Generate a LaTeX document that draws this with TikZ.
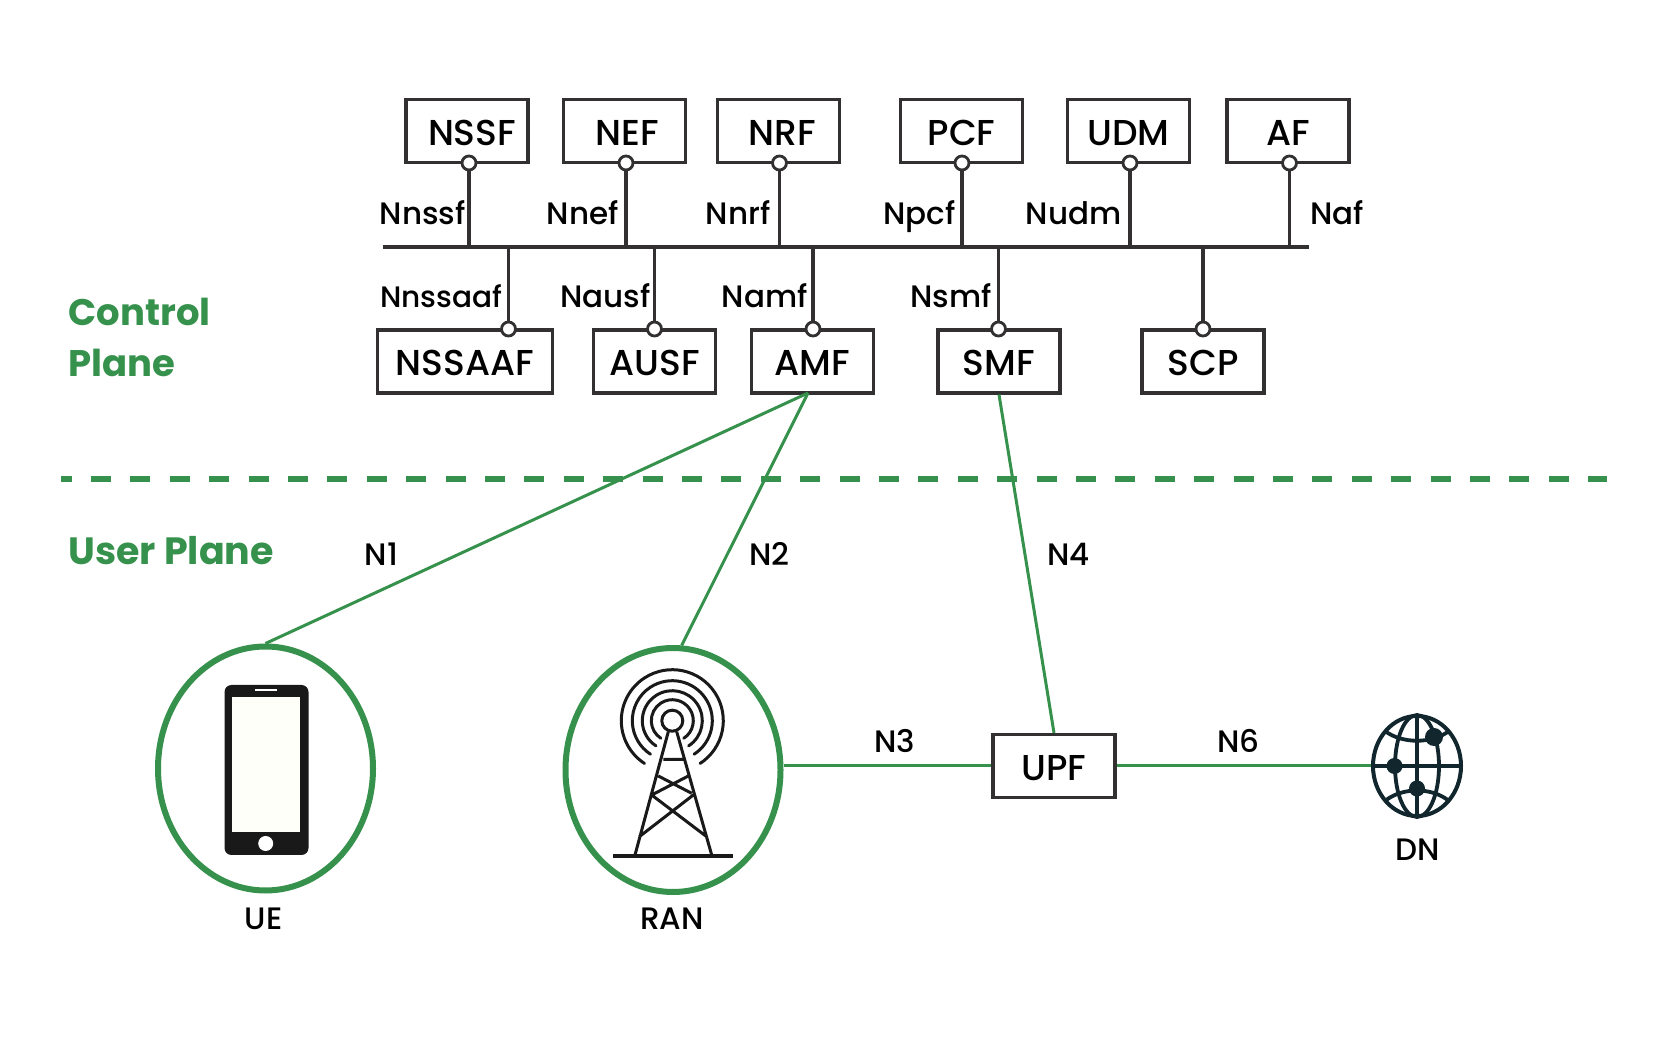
\documentclass[tikz,border=0pt]{standalone}
\usepackage{fontspec}
\setmainfont{Poppins Medium}[BoldFont={Poppins Bold}]
\usetikzlibrary{positioning,shapes.geometric}
\definecolor{planegreen}{RGB}{53,145,75}
\definecolor{boxgray}{RGB}{50,48,48}
\definecolor{globeink}{RGB}{18,38,46}

\begin{document}
\begin{tikzpicture}[x=0.5pt,y=-0.5pt,
    thick,
    box node/.style={rectangle,draw=boxgray,line width=1.6pt,fill=white,minimum width=61pt,minimum height=31.5pt,inner sep=0pt,text height=14.3pt,text depth=0pt,font=\fontsize{18}{22}\selectfont},
    wide node/.style={box node,minimum width=87.5pt},
    port node/.style={circle,draw=boxgray,line width=1.4pt,fill=white,minimum size=7pt,inner sep=0pt},
    iface/.style={font=\fontsize{15.5}{19}\selectfont},
    site/.style={ellipse,draw=planegreen,line width=3pt,minimum width=107.5pt,minimum height=122pt,inner sep=0pt},
    globe/.style={ellipse,draw=globeink,line width=2pt,minimum width=44pt,minimum height=50pt,inner sep=0pt},
    plane/.style={font=\fontsize{18.5}{25}\selectfont\bfseries,text=planegreen,align=left,anchor=west},
    bus line/.style={draw=boxgray,line width=1.7pt},
    link/.style={draw=planegreen,line width=1.5pt}]
    \useasboundingbox (0,0) rectangle (1667,1042);
    % control plane boxes, top row
    \node[box node] (nssf) at (467,131) {\hspace*{5pt}NSSF};
    \node[box node] (nef) at (624.5,131) {\hspace*{3pt}NEF};
    \node[box node] (nrf) at (778.5,131) {\hspace*{4pt}NRF};
    \node[box node] (pcf) at (961.5,131) {PCF};
    \node[box node] (udm) at (1128.5,131) {UDM};
    \node[box node] (af) at (1288,131) {AF};
    % bottom row
    \node[wide node] (nssaaf) at (465,361.5) {NSSAAF};
    \node[box node] (ausf) at (654.5,361.5) {AUSF};
    \node[box node] (amf) at (812.5,361.5) {AMF};
    \node[box node] (smf) at (999,361.5) {SMF};
    \node[box node] (scp) at (1203,361.5) {SCP};
    % bus ends
    \coordinate (busl) at (383,247);
    \coordinate (busr) at (1309,247);
    \path[bus line] (busl) edge (busr);
    % service ports
    \node[port node] (pnssf) at (469,163) {};
    \node[port node] (pnef) at (626,163) {};
    \node[port node] (pnrf) at (779.5,163) {};
    \node[port node] (ppcf) at (962,163) {};
    \node[port node] (pudm) at (1130,163) {};
    \node[port node] (paf) at (1289.5,163) {};
    \node[port node] (pnssaaf) at (508.5,329) {};
    \node[port node] (pausf) at (654.5,329) {};
    \node[port node] (pamf) at (813,329) {};
    \node[port node] (psmf) at (998.5,329) {};
    \node[port node] (pscp) at (1203,329) {};
    \path[bus line]
    (pnssf) edge (pnssf |- busl)
    (pnef) edge (pnef |- busl)
    (pnrf) edge (pnrf |- busl)
    (ppcf) edge (ppcf |- busl)
    (pudm) edge (pudm |- busl)
    (paf) edge (paf |- busl)
    (pnssaaf) edge (pnssaaf |- busl)
    (pausf) edge (pausf |- busl)
    (pamf) edge (pamf |- busl)
    (psmf) edge (psmf |- busl)
    (pscp) edge (pscp |- busl);
    % interface labels
    \node[iface,anchor=base east] (lnssf) at (473,225) {Nnssf};
    \node[iface,anchor=base east] (lnef) at (626,225) {Nnef};
    \node[iface,anchor=base east] (lnrf) at (778,225) {Nnrf};
    \node[iface,anchor=base east] (lnpcf) at (963,225) {Npcf};
    \node[iface,anchor=base east] (lnudm) at (1129,225) {Nudm};
    \node[iface,anchor=base west] (lnaf) at (1303,225) {Naf};
    \node[iface,anchor=base east,font=\fontsize{14.8}{18}\selectfont] (lnssaaf) at (510,308) {Nnssaaf};
    \node[iface,anchor=base east] (lnausf) at (658,308) {Nausf};
    \node[iface,anchor=base east] (lnamf) at (815,308) {Namf};
    \node[iface,anchor=base east] (lnsmf) at (999,308) {Nsmf};
    % planes
    \node[plane] (cplane) at (61,311.5) {Control};
    \node[plane] (cplane2) at (61,362.5) {Plane};
    \node[plane,font=\fontsize{19}{25}\selectfont\bfseries] (uplane) at (61,551) {User Plane};
    \coordinate (dashl) at (61,479);
    \coordinate (dashr) at (1607,479);
    \path[draw=planegreen,line width=3.3pt,dash pattern=on 10pt off 9.7pt,dash phase=4.7pt] (dashl) -- (dashr);
    % user plane
    \node[site] (ue) at (265.5,768.5) {};
    \node[site] (ran) at (673,770) {};
    \node[box node] (upf) at (1054,766) {UPF};
    \node[globe] (dn) at (1417,766) {};
    \node[iface] (lue) at (263.5,918.5) {UE};
    \node[iface] (lran) at (672,918.5) {RAN};
    \node[iface] (ldn) at (1418,849.5) {DN};
    \coordinate (amfdrop) at (808,393);
    \path[link]
    (amfdrop) edge (ue.north)
    (amfdrop) edge (ran.86)
    (smf.south) edge (upf.north)
    (upf.west) edge (upf.west -| ran.east)
    (upf) edge (dn);
    \node[iface] (ln1) at (381.5,554) {N1};
    \node[iface] (ln2) at (769.5,554) {N2};
    \node[iface] (ln4) at (1068.5,554) {N4};
    \node[iface] (ln3) at (895,741) {N3};
    \node[iface] (ln6) at (1238.5,741) {N6};
    % phone
    \fill[black!90,rounded corners=3.5pt] (224.5,685) rectangle (308.5,855);
    \fill[white!98!yellow] (232,697) rectangle (300,832);
    \fill[white] (265.7,843.5) circle (7.5);
    \fill[white] (255,689) rectangle (277,691);
    % tower
    \begin{scope}[line width=1.5pt,draw=black!90]
    \draw (672.3,720.7) circle (10.5);
    \foreach \r in {21,30,40,51}
    \draw[line cap=round] (672.3,720.7) ++(57:\r) arc (57:-237:\r);
    \draw (668.3,731.7) -- (635,855) (676.7,731.7) -- (711.7,855)
    (663.3,759.3) -- (683.3,759.3)
    (658.3,776) -- (691.7,793.3) (688.3,776) -- (651.7,795)
    (651.7,795) -- (706.7,836.7) (693.3,795) -- (639.3,836.7);
    \draw[line width=2pt] (613,856.5) -- (733,856.5);
    \end{scope}
    % globe
    \begin{scope}[line width=1.9pt,draw=globeink]
    \draw (dn) circle [x radius=22,y radius=51];
    \draw (dn.west) -- (dn.east) (dn.north) -- (dn.south);
    \draw (1385,731) .. controls (1402,744) and (1432,744) .. (1449,731);
    \draw (1385,801) .. controls (1402,787) and (1432,787) .. (1449,801);
    \fill[globeink] (1394.5,766) circle (8) (1417,788.5) circle (8) (1434,737) circle (9);
    \end{scope}
\end{tikzpicture}
\end{document}
